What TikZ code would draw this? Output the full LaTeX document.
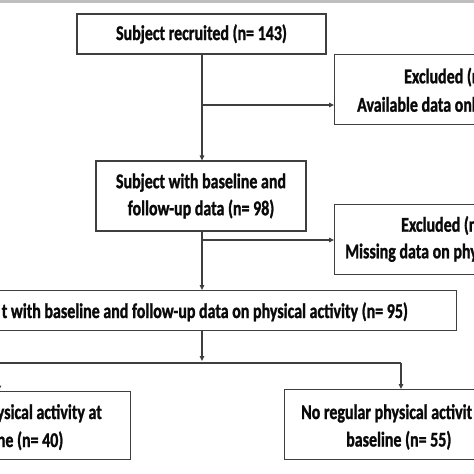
\documentclass[tikz,border=0pt]{standalone}
\usepackage{fontspec}
\setmainfont{Carlito}[FakeStretch=0.76, BoldFeatures={FakeBold=1.2}]
\usetikzlibrary{arrows.meta}
\definecolor{linec}{HTML}{3F3F3F}
\definecolor{topgray}{HTML}{BEBEBE}
\definecolor{textc}{HTML}{0A0A0A}
\begin{document}
\begin{tikzpicture}[x=1pt,y=-1pt,
  box/.style={draw=linec, line width=1.1pt, fill=white, inner sep=0pt, text=textc,
    font=\fontsize{21}{27}\selectfont\bfseries, align=center},
  lbl/.style={inner sep=0pt, text=textc, font=\fontsize{21}{27}\selectfont\bfseries},
  arr/.style={draw=linec, line width=1.1pt, -{Triangle[length=5pt,width=4.5pt]}},
  ln/.style={draw=linec, line width=1.1pt}]
\useasboundingbox (0,0) rectangle (474,474);
\clip (0,0) rectangle (474,474);
\fill[white] (0,0) rectangle (474,474);
\fill[topgray] (0,0) rectangle (474,2.5);

% boxes
\node[box, minimum width=249pt, minimum height=40pt] (b1) at (201.5,34) {Subject recruited (n= 143)};
\node[box, minimum width=210pt, minimum height=70pt] (b2) at (201,196) {Subject with baseline and\\follow-up data (n= 98)};
\node[box, minimum width=220pt, minimum height=70pt, anchor=north west] (b3) at (334,54) {};
\node[box, minimum width=220pt, minimum height=70pt, anchor=north west] (b4) at (334,204) {};
\node[box, minimum width=600pt, minimum height=40pt, anchor=north east] (b5) at (457,290) {};
\node[box, minimum width=300pt, minimum height=68pt, anchor=north east] (b6) at (131,390.5) {};
\node[box, minimum width=300pt, minimum height=70pt, anchor=north west] (b7) at (284,389) {};

% texts of the cropped boxes
\node[lbl, anchor=base west] (t3a) at (404,83.3) {Excluded (n};
\node[lbl, anchor=base west] (t3b) at (357,111.7) {Available data onl};
\node[lbl, anchor=base west] (t4a) at (401,231.7) {Excluded (n};
\node[lbl, anchor=base west] (t4b) at (345,258.3) {Missing data on phy};
\node[lbl, anchor=base east] (t5) at (408,318) {t with baseline and follow-up data on physical activity (n= 95)};
\node[lbl, anchor=base east] (t6a) at (102,419) {ysical activity at};
\node[lbl, anchor=base east] (t6b) at (63.5,447) {ne (n= 40)};
\node[lbl, anchor=base west] (t7a) at (301,419) {No regular physical activit};
\node[lbl, anchor=base west] (t7b) at (346,446.5) {baseline (n= 55)};

% connectors
\coordinate (j1) at (202,105);
\coordinate (j2) at (202,240);
\coordinate (j3) at (202,361);
\coordinate (jl) at (-1,363);
\coordinate (jr) at (401,363);
\draw[arr] (b1.south -| j1) -- (j1 |- b2.north);
\draw[arr] (j1) -- (j1 -| b3.west);
\draw[arr] (b2.south -| j2) -- (j2 |- b5.north);
\draw[arr] (j2) -- (j2 -| b4.west);
\draw[arr] (b5.south -| j3) -- (j3);
\draw[ln] (jl) -- (jr);
\draw[arr] (jl) -- (jl |- b6.north);
\draw[arr] (jr) -- (jr |- b7.north);
\end{tikzpicture}
\end{document}
